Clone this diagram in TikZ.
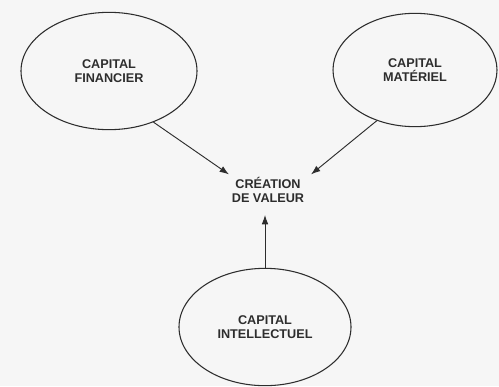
\documentclass[tikz,border=0pt]{standalone}
\usepackage{fontspec}
\setmainfont{Liberation Sans}
\usepackage{xcolor}
\usepackage{tikz}
\usetikzlibrary{shapes,arrows.meta,positioning,calc}
\definecolor{capgray}{RGB}{45,45,45}
\definecolor{capbg}{RGB}{246,246,246}

\begin{document}
\begin{tikzpicture}[x=0.75pt,y=-0.75pt,
        capital/.style={draw=capgray, ellipse, line width=0.8pt, align=center, inner sep=0pt},
        lbl/.style={font=\bfseries\fontsize{9.5}{10.5}\selectfont, text=capgray},
        flow/.style={-{Latex[length=7pt,width=5pt]}, draw=capgray, line width=0.7pt}]
                \useasboundingbox[fill=capbg] (0,0) rectangle (499,386);

                % Capitals
                \node[capital, lbl, minimum width=132pt, minimum height=88pt] (fin) at (109,71) {CAPITAL\\FINANCIER};
                \node[capital, lbl, minimum width=123pt, minimum height=85pt] (mat) at (415,70) {CAPITAL\\MAT\'ERIEL};
                \node[capital, lbl, minimum width=129pt, minimum height=88pt] (intel) at (265,327) {CAPITAL\\INTELLECTUEL};

                % Value creation
                \node[lbl, align=center, inner sep=2pt] (valeur) at (268,190) {CR\'EATION\\DE VALEUR};

                % Arrows
                \draw[flow] (fin.-49) -- (valeur.north west);
                \draw[flow] (mat.233) -- ($(valeur.north east)+(4,0)$);
                \draw[flow, shorten >=7pt] (intel.north) -- (valeur.south -| intel.north);
\end{tikzpicture}
\end{document}
